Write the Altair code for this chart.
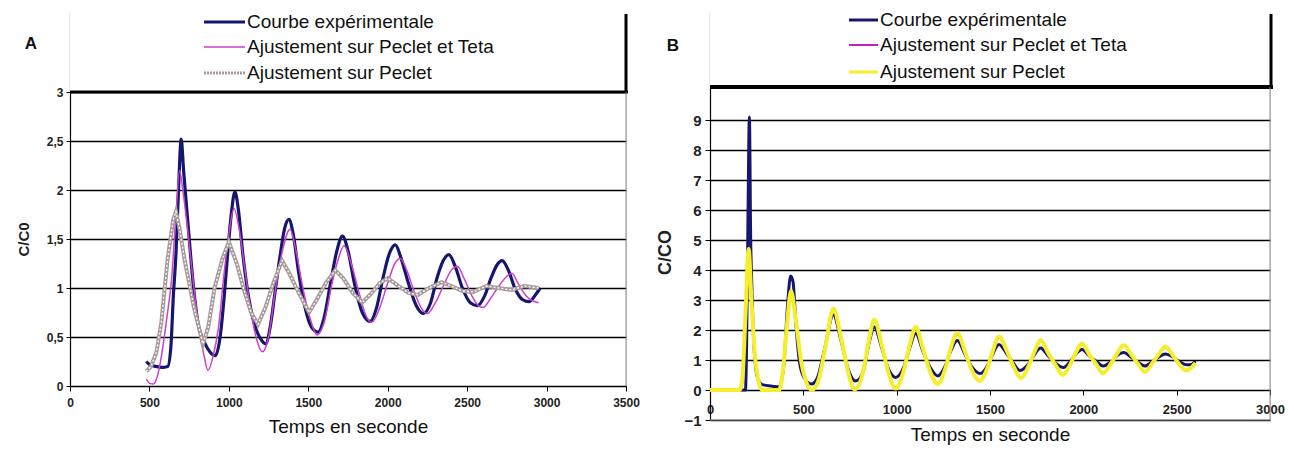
import altair as alt
import pandas as pd

NAMES = ["Courbe expérimentale", "Ajustement sur Peclet et Teta", "Ajustement sur Peclet"]

# ---------------- Panel A data ----------------
a_exp_t = [480, 500, 540, 580, 615, 635, 650, 667, 683, 700, 715, 742, 775, 805, 845, 880, 915, 945, 970, 990,
           1015, 1038, 1060, 1089, 1120, 1158, 1200, 1232, 1260, 1290, 1320, 1350, 1378, 1405, 1440, 1480, 1520,
           1561, 1600, 1640, 1680, 1715, 1750, 1790, 1840, 1890, 1930, 1970, 2010, 2048, 2085, 2130, 2180, 2225,
           2270, 2310, 2350, 2385, 2425, 2470, 2520, 2565, 2610, 2650, 2690, 2720, 2760, 2800, 2850, 2890, 2930, 2960]
a_exp_v = [0.25, 0.22, 0.20, 0.19, 0.20, 0.40, 0.9, 1.35, 2.0, 2.52, 2.2, 1.67, 1.05, 0.65, 0.45, 0.35, 0.31, 0.5, 0.9, 1.3,
           1.75, 1.98, 1.8, 1.33, 0.95, 0.65, 0.48, 0.43, 0.6, 0.95, 1.3, 1.6, 1.70, 1.55, 1.15, 0.8, 0.6,
           0.55, 0.7, 1.05, 1.38, 1.53, 1.38, 1.05, 0.75, 0.66, 0.8, 1.1, 1.35, 1.44, 1.3, 1.05, 0.82, 0.74,
           0.85, 1.1, 1.28, 1.34, 1.22, 1.0, 0.85, 0.82, 0.92, 1.1, 1.24, 1.28, 1.18, 1.0, 0.88, 0.86, 0.93, 1.0]

a_pt_t = [480, 500, 525, 550, 575, 610, 640, 665, 690, 710, 740, 780, 815, 845, 868, 900, 935, 970, 1000, 1032,
          1065, 1100, 1140, 1180, 1212, 1250, 1290, 1340, 1385, 1420, 1460, 1510, 1555, 1600, 1650, 1690, 1725,
          1770, 1820, 1860, 1900, 1950, 2000, 2045, 2080, 2120, 2170, 2210, 2250, 2300, 2350, 2400, 2440, 2480,
          2530, 2570, 2600, 2650, 2700, 2750, 2780, 2820, 2870, 2910, 2950]
a_pt_v = [0.07, 0.03, 0.02, 0.1, 0.3, 0.7, 1.1, 1.7, 2.2, 2.0, 1.6, 1.0, 0.55, 0.3, 0.16, 0.3, 0.6, 1.15, 1.55, 1.81,
          1.6, 1.2, 0.75, 0.45, 0.35, 0.5, 0.95, 1.4, 1.6, 1.4, 1.05, 0.7, 0.52, 0.65, 1.05, 1.3, 1.43,
          1.25, 0.95, 0.73, 0.65, 0.8, 1.05, 1.25, 1.3, 1.18, 0.95, 0.8, 0.74, 0.85, 1.02, 1.18, 1.22, 1.1,
          0.92, 0.82, 0.8, 0.9, 1.02, 1.12, 1.15, 1.05, 0.92, 0.87, 0.85]

a_p_t = [480, 510, 545, 575, 615, 650, 667, 690, 720, 780, 837, 870, 910, 960, 1000, 1050, 1095, 1140, 1183, 1230,
         1280, 1335, 1380, 1440, 1505, 1560, 1610, 1670, 1720, 1780, 1840, 1900, 1950, 2000, 2060, 2130, 2190,
         2260, 2340, 2400, 2470, 2540, 2620, 2700, 2780, 2860, 2950]
a_p_v = [0.15, 0.2, 0.35, 0.65, 1.3, 1.7, 1.78, 1.6, 1.3, 0.8, 0.43, 0.6, 1.0, 1.3, 1.47, 1.25, 0.98, 0.75, 0.63, 0.8,
         1.05, 1.28, 1.15, 0.95, 0.75, 0.9, 1.05, 1.18, 1.1, 0.95, 0.85, 0.95, 1.05, 1.1, 1.03, 0.95, 0.93,
         1.0, 1.06, 1.02, 0.97, 0.96, 1.02, 1.0, 0.98, 1.02, 1.0]

# ---------------- Panel B data ----------------
b_exp_t = [0, 190, 196, 203, 211, 218, 224, 235, 255, 280, 340, 370, 395, 415, 432, 445, 460, 480, 505, 545,
           575, 615, 661, 700, 740, 780, 820, 850, 880, 920, 960, 995, 1040, 1070, 1102, 1140, 1180, 1220,
           1260, 1290, 1325, 1365, 1400, 1448, 1490, 1515, 1548, 1590, 1625, 1660, 1710, 1740, 1771, 1810,
           1850, 1893, 1930, 1960, 1993, 2030, 2070, 2105, 2150, 2180, 2216, 2255, 2295, 2330, 2370, 2405,
           2439, 2480, 2515, 2550, 2580, 2600]
b_exp_v = [0.0, 0.0, 1.5, 5.5, 9.1, 5.0, 3.5, 1.5, 0.4, 0.18, 0.12, 0.1, 0.8, 2.8, 3.8, 3.6, 2.2, 0.9, 0.4, 0.2,
           0.4, 1.4, 2.5, 1.7, 0.7, 0.3, 0.6, 1.5, 2.1, 1.4, 0.65, 0.42, 0.8, 1.4, 1.88, 1.3, 0.75, 0.47,
           0.8, 1.3, 1.65, 1.2, 0.8, 0.55, 0.85, 1.2, 1.52, 1.2, 0.9, 0.65, 0.9, 1.2, 1.4, 1.15,
           0.9, 0.75, 0.95, 1.2, 1.35, 1.15, 0.95, 0.8, 0.95, 1.15, 1.25, 1.1, 0.92, 0.8, 0.95, 1.1,
           1.2, 1.1, 0.95, 0.84, 0.85, 0.97]

b_pt_t = [0, 165, 180, 193, 207, 222, 240, 260, 280, 370, 390, 410, 436, 460, 490, 520, 545, 580, 620, 663,
          700, 740, 778, 820, 850, 882, 920, 960, 998, 1040, 1070, 1104, 1140, 1180, 1222, 1260, 1290, 1327,
          1365, 1400, 1447, 1490, 1515, 1550, 1590, 1625, 1667, 1710, 1740, 1773, 1810, 1850, 1892, 1930,
          1960, 1995, 2030, 2070, 2107, 2150, 2180, 2218, 2255, 2295, 2332, 2370, 2405, 2441, 2480, 2515,
          2552, 2580, 2600]
b_pt_v = [0.0, 0.0, 0.8, 2.8, 4.6, 3.0, 1.2, 0.3, 0.0, 0.0, 0.6, 2.0, 3.2, 2.3, 0.9, 0.2, 0.02, 0.3, 1.5, 2.65,
          1.8, 0.6, 0.05, 0.6, 1.6, 2.3, 1.5, 0.5, 0.08, 0.7, 1.5, 2.05, 1.4, 0.6, 0.22, 0.7, 1.4, 1.85,
          1.3, 0.7, 0.32, 0.8, 1.3, 1.74, 1.3, 0.8, 0.42, 0.85, 1.3, 1.63, 1.25, 0.85, 0.52, 0.85,
          1.25, 1.52, 1.2, 0.85, 0.57, 0.9, 1.2, 1.47, 1.2, 0.85, 0.62, 0.9, 1.2, 1.42, 1.15, 0.85,
          0.67, 0.76, 0.88]

b_p_t = [0, 160, 175, 190, 207, 222, 240, 260, 280, 370, 390, 410, 434, 460, 490, 520, 545, 580, 620, 661,
         700, 740, 775, 820, 850, 880, 920, 960, 995, 1040, 1070, 1102, 1140, 1180, 1220, 1260, 1290, 1325,
         1365, 1400, 1445, 1490, 1515, 1548, 1590, 1625, 1665, 1710, 1740, 1771, 1810, 1850, 1890, 1930,
         1960, 1993, 2030, 2070, 2105, 2150, 2180, 2216, 2255, 2295, 2330, 2370, 2405, 2439, 2480, 2515,
         2550, 2580, 2600]
b_p_v = [0.0, 0.0, 0.5, 2.5, 4.7, 3.0, 1.2, 0.3, 0.0, 0.0, 0.6, 2.0, 3.3, 2.3, 0.9, 0.2, 0.0, 0.3, 1.5, 2.72,
         1.8, 0.6, 0.02, 0.6, 1.6, 2.35, 1.5, 0.5, 0.05, 0.7, 1.5, 2.1, 1.4, 0.6, 0.2, 0.7, 1.4, 1.9,
         1.3, 0.7, 0.3, 0.8, 1.3, 1.78, 1.3, 0.8, 0.4, 0.85, 1.3, 1.67, 1.25, 0.85, 0.5, 0.85,
         1.25, 1.55, 1.2, 0.85, 0.55, 0.9, 1.2, 1.5, 1.2, 0.85, 0.6, 0.9, 1.2, 1.45, 1.15, 0.85,
         0.65, 0.75, 0.9]

a_x_ticks = [0, 500, 1000, 1500, 2000, 2500, 3000, 3500]
a_y_ticks = [0, 0.5, 1, 1.5, 2, 2.5, 3]
b_x_ticks = [0, 500, 1000, 1500, 2000, 2500, 3000]
b_y_ticks = [-1, 0, 1, 2, 3, 4, 5, 6, 7, 8, 9]

a_colors = ["#16166e", "#cc40cc", "#a89a9a"]
a_widths = [3.2, 1.5, 4.0]
b_colors = ["#16166e", "#c81ec8", "#f4ee2c"]
b_widths = [3.0, 2.0, 4.0]

FONT = "Liberation Sans"

W_A, H_A = 556, 374
W_B, H_B = 560, 408
A_YMAX = 3 + 80 / 98.0
B_YMAX = -1 + H_B / 30.0


def df(t, v):
    return pd.DataFrame({"t": t, "v": v})


def legend_layers(colors, widths, sx0, sx1, tx, rows, dashes, fsize):
    out = []
    for name, c, w, ry, d in zip(NAMES, colors, widths, rows, dashes):
        kw = dict(color=c, strokeWidth=min(w, 3))
        if d:
            kw["strokeDash"] = d
        out.append(alt.Chart(pd.DataFrame({"k": [0]})).mark_rule(**kw).encode(
            x=alt.value(sx0), x2=alt.value(sx1), y=alt.value(ry)))
        out.append(alt.Chart(pd.DataFrame({"label": [name]})).mark_text(
            align="left", baseline="middle", font=FONT, fontSize=fsize, color="#111").encode(
            x=alt.value(tx), y=alt.value(ry), text="label:N"))
    return out


lab_expr = "replace(format(datum.value, '~g'), '.', ',')"

# ---------------- Panel A ----------------
xa = alt.X("t:Q", scale=alt.Scale(domain=[0, 3500], nice=False, zero=False),
           axis=alt.Axis(values=a_x_ticks, format="d", title="Temps en seconde", grid=False,
                         domainColor="black", domainWidth=1.2, tickColor="black", tickSize=5,
                         labelFont=FONT, labelFontSize=12, labelFontWeight="bold", labelColor="#222",
                         labelPadding=6, labelFlush=False, titleFont=FONT, titleFontSize=19,
                         titleFontWeight="normal", titleColor="#111", titlePadding=9))
ya = alt.Y("v:Q", scale=alt.Scale(domain=[0, A_YMAX], nice=False, zero=False),
           axis=alt.Axis(values=a_y_ticks, title="C/C0", grid=True, gridColor="black", gridWidth=1.5,
                         domainColor="black", domainWidth=1.2, tickColor="black", tickSize=4,
                         labelExpr=lab_expr, labelFont=FONT, labelFontSize=12, labelFontWeight="bold",
                         labelColor="#222", labelPadding=3, titleFont=FONT, titleFontSize=15,
                         titleFontWeight="bold", titleColor="#222", titleX=-47, titleY=227,
                         titleBaseline="middle"))

a_lines = [
    alt.Chart(df(a_exp_t, a_exp_v)).mark_line(color=a_colors[0], strokeWidth=a_widths[0], interpolate="monotone").encode(x=xa, y=ya),
    alt.Chart(df(a_pt_t, a_pt_v)).mark_line(color=a_colors[1], strokeWidth=a_widths[1], interpolate="monotone").encode(x="t:Q", y="v:Q"),
    alt.Chart(df(a_p_t, a_p_v)).mark_line(color=a_colors[2], strokeWidth=a_widths[2], interpolate="linear").encode(x="t:Q", y="v:Q"),
    alt.Chart(df(a_p_t, a_p_v)).mark_line(color="white", strokeWidth=1.3, strokeDash=[2, 2], interpolate="linear").encode(x="t:Q", y="v:Q"),
]
one = pd.DataFrame({"k": [0]})
a_box = [
    alt.Chart(one).mark_rect(color="white").encode(x=alt.value(0), x2=alt.value(W_A), y=alt.datum(3.0), y2=alt.value(0)),
    alt.Chart(one).mark_rule(color="black", strokeWidth=3).encode(x=alt.value(0), x2=alt.value(W_A + 2), y=alt.datum(3.0)),
    alt.Chart(one).mark_rule(color="black", strokeWidth=3).encode(x=alt.value(W_A), y=alt.datum(3.0), y2=alt.value(2)),
    alt.Chart(one).mark_rule(color="#888", strokeWidth=1).encode(x=alt.value(W_A), y=alt.datum(0.0), y2=alt.datum(3.0)),
    alt.Chart(pd.DataFrame({"label": ["A"]})).mark_text(font=FONT, fontSize=17, fontWeight="bold", color="#111").encode(
        x=alt.value(-39), y=alt.value(32), text="label:N"),
    alt.Chart(pd.DataFrame({"label": ["."]})).mark_text(opacity=0, align="left").encode(
        x=alt.value(-61), y=alt.value(200), text="label:N"),
]
a_leg = legend_layers(a_colors, a_widths, 134, 175, 177, [10, 35, 61], [None, None, [2, 1]], 19)
panel_a = alt.layer(*a_lines, *a_box, *a_leg).properties(width=W_A, height=H_A)

# ---------------- Panel B ----------------
xb = alt.X("t:Q", scale=alt.Scale(domain=[0, 3000], nice=False, zero=False),
           axis=alt.Axis(values=b_x_ticks, format="d", title="Temps en seconde", grid=False,
                         domainColor="black", domainWidth=1.2, tickColor="black", tickSize=5, offset=-30,
                         labelFont=FONT, labelFontSize=13, labelFontWeight="bold", labelColor="#222",
                         labelPadding=8, labelFlush=False, titleFont=FONT, titleFontSize=19,
                         titleFontWeight="normal", titleColor="#111", titlePadding=9))
yb = alt.Y("v:Q", scale=alt.Scale(domain=[-1, B_YMAX], nice=False, zero=False),
           axis=alt.Axis(values=b_y_ticks, title="C/CO", grid=True, gridColor="black", gridWidth=1.5,
                         domainColor="black", domainWidth=1.2, tickColor="black", tickSize=5,
                         labelFont=FONT, labelFontSize=15, labelFontWeight="bold", labelColor="#222",
                         labelPadding=4, titleFont=FONT, titleFontSize=18, titleFontWeight="bold",
                         titleColor="#222", titleX=-45, titleY=240, titleBaseline="middle"))

b_lines = [
    alt.Chart(df(b_exp_t, b_exp_v)).mark_line(color=b_colors[0], strokeWidth=b_widths[0], interpolate="monotone").encode(x=xb, y=yb),
    alt.Chart(df(b_pt_t, b_pt_v)).mark_line(color=b_colors[1], strokeWidth=b_widths[1], interpolate="monotone").encode(x="t:Q", y="v:Q"),
    alt.Chart(df(b_p_t, b_p_v)).mark_line(color=b_colors[2], strokeWidth=b_widths[2], interpolate="monotone").encode(x="t:Q", y="v:Q"),
]
B_BOX = 10.1
b_box = [
    alt.Chart(one).mark_rect(color="white").encode(x=alt.value(0), x2=alt.value(W_B), y=alt.datum(B_BOX), y2=alt.value(0)),
    alt.Chart(one).mark_rule(color="black", strokeWidth=4).encode(x=alt.value(0), x2=alt.value(W_B + 3), y=alt.datum(B_BOX)),
    alt.Chart(one).mark_rule(color="black", strokeWidth=3).encode(x=alt.value(W_B + 1), y=alt.datum(B_BOX), y2=alt.value(2)),
    alt.Chart(one).mark_rule(color="#888", strokeWidth=1).encode(x=alt.value(W_B), y=alt.datum(-1.0), y2=alt.datum(B_BOX)),
    alt.Chart(one).mark_rule(color="#888", strokeWidth=1).encode(x=alt.value(0), x2=alt.value(W_B), y=alt.datum(-1.0)),
    alt.Chart(pd.DataFrame({"label": ["B"]})).mark_text(font=FONT, fontSize=17, fontWeight="bold", color="#111").encode(
        x=alt.value(-37), y=alt.value(34), text="label:N"),
]
b_leg = legend_layers(b_colors, b_widths, 139, 168, 170, [8, 33, 60], [None, None, None], 19)
panel_b = alt.layer(*b_lines, *b_box, *b_leg).properties(width=W_B, height=H_B)

chart = alt.hconcat(panel_a, panel_b, spacing=84, bounds="flush").properties(
    padding={"left": 0, "top": 2, "right": 0, "bottom": 0}
).configure_view(stroke=None).configure(background="white")

chart.save("out.html", embed_options={"renderer": "svg", "actions": False})
